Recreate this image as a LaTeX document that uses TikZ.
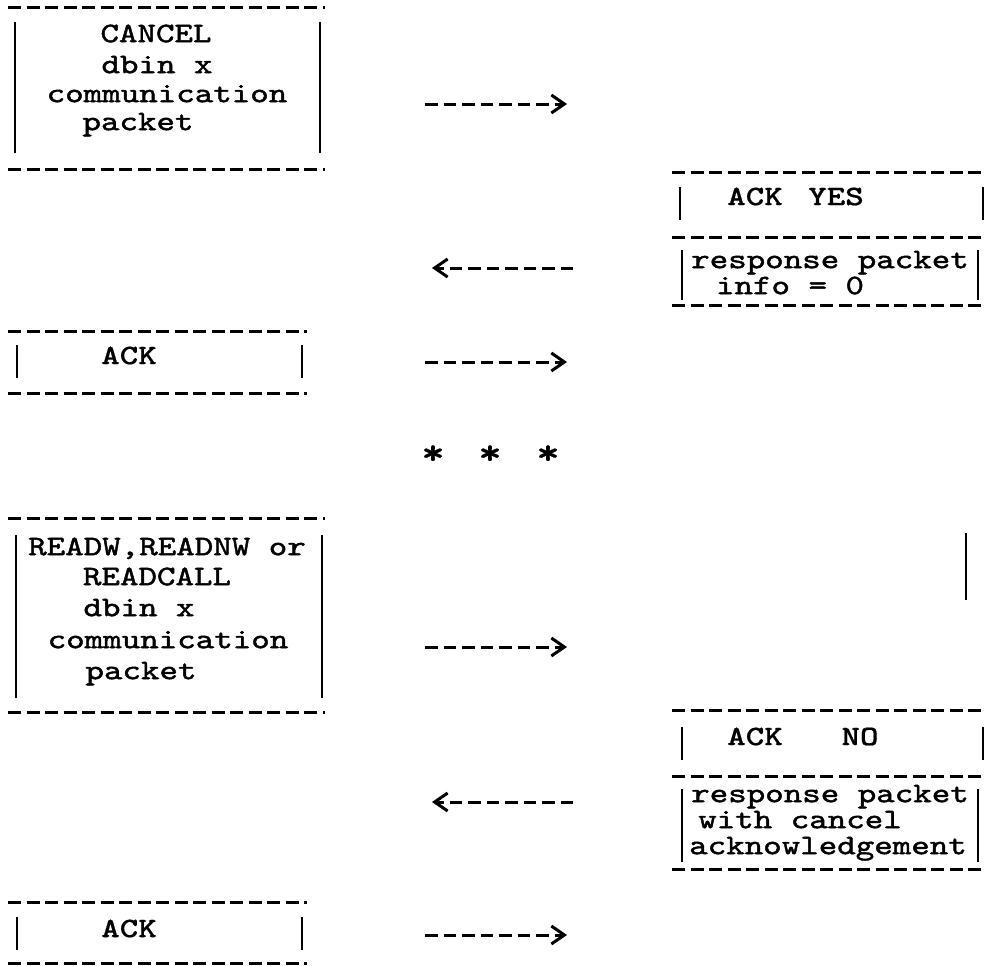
\documentclass[tikz,border=0pt]{standalone}
\usepackage{fontspec}
\usepackage{tikz}
\usetikzlibrary{arrows.meta}
\newfontfamily\typewheel{lmmono10-regular.otf}[FakeStretch=1.25,FakeBold=1.6]
\newfontfamily\typeheavy{lmmonolt10-bold.otf}[FakeStretch=1.25,FakeBold=0.6]
\tikzset{
  rule/.style={line width=3pt,dash pattern=on 13pt off 5.5pt},
  bar/.style={line width=2.6pt},
  txt/.style={font=\typewheel\fontsize{28.2}{30}\selectfont,inner sep=0pt,anchor=mid},
  keytxt/.style={txt,font=\typeheavy\fontsize{28.2}{30}\selectfont},
  startxt/.style={txt,font=\typeheavy\fontsize{36}{30}\selectfont},
  sendarrow/.style={line width=3pt,dash pattern=on 12.5pt off 6pt,-{Straight Barb[length=13pt,width=18pt,sep=5pt]}}
}
\begin{document}
\begin{tikzpicture}[x=1pt,y=-1pt]
  \useasboundingbox (0,0) rectangle (985,966);

  % cancel request
  \draw[rule] (8,8) -- (325,8);
  \draw[bar] (15,22) -- (15,153);
  \draw[bar] (320,22) -- (320,153);
  \draw[rule] (8,169) -- (325,169);
  \node[txt] (cancel) at (156,40) {CANCEL};
  \node[txt] (dbinA) at (157,71) {dbin x};
  \node[txt] (commA) at (167,100) {communication};
  \node[txt] (packA) at (138,128) {packet};

  \coordinate (sendA) at (425,104);
  \coordinate (recvA) at (572,104);
  \draw[sendarrow] (sendA) -- (recvA);

  % ack yes
  \draw[rule] (672,172) -- (985,172);
  \draw[bar] (680,187) -- (680,220);
  \draw[bar] (983,187) -- (983,220);
  \node[keytxt] (ackY) at (755,203) {ACK};
  \node[keytxt] (yes) at (836,203) {YES};
  \draw[rule] (672,237) -- (985,237);
  \draw[bar] (682,250) -- (682,300);
  \draw[bar] (978,250) -- (978,300);
  \node[txt] (respY) at (830,266) {response packet};
  \node[txt] (info) at (790,292) {info = 0};
  \draw[rule] (672,305) -- (985,305);

  \coordinate (backB) at (573,268);
  \coordinate (endB) at (427,268);
  \draw[sendarrow] (backB) -- (endB);

  % ack
  \draw[rule] (8,331) -- (307,331);
  \draw[bar] (17,345) -- (17,378);
  \draw[bar] (302,345) -- (302,378);
  \draw[rule] (8,393) -- (307,393);
  \node[keytxt] (ackA) at (129,362) {ACK};

  \coordinate (sendC) at (425,362);
  \coordinate (recvC) at (572,362);
  \draw[sendarrow] (sendC) -- (recvC);

  \node[startxt] (starA) at (433,462) {*};
  \node[startxt] (starB) at (490,462) {*};
  \node[startxt] (starC) at (548,462) {*};

  \draw[bar] (966,533) -- (966,600);

  % read request
  \draw[rule] (8,518) -- (325,518);
  \draw[bar] (16,535) -- (16,698);
  \draw[bar] (322,535) -- (322,698);
  \draw[rule] (8,712) -- (325,712);
  \node[txt] (readw) at (167,553) {READW,READNW or};
  \node[txt] (readcall) at (157,583) {READCALL};
  \node[txt] (dbinB) at (139,614) {dbin x};
  \node[txt] (commB) at (168,646) {communication};
  \node[txt] (packB) at (141,677) {packet};

  \coordinate (sendD) at (425,647);
  \coordinate (recvD) at (572,647);
  \draw[sendarrow] (sendD) -- (recvD);

  % ack no
  \draw[rule] (672,710) -- (985,710);
  \draw[bar] (682,727) -- (682,760);
  \draw[bar] (983,727) -- (983,760);
  \node[keytxt] (ackN) at (755,743) {ACK};
  \node[keytxt] (no) at (860,743) {NO};
  \draw[rule] (672,776) -- (985,776);
  \draw[bar] (682,789) -- (682,862);
  \draw[bar] (978,789) -- (978,862);
  \node[txt] (respN) at (830,800) {response packet};
  \node[txt] (cancelack) at (800,826) {with cancel};
  \node[txt] (acknow) at (828,852) {acknowledgement};
  \draw[rule] (672,869) -- (985,869);

  \coordinate (backE) at (573,802);
  \coordinate (endE) at (427,802);
  \draw[sendarrow] (backE) -- (endE);

  % ack
  \draw[rule] (8,902) -- (307,902);
  \draw[bar] (17,917) -- (17,950);
  \draw[bar] (302,917) -- (302,950);
  \draw[rule] (8,963) -- (307,963);
  \node[keytxt] (ackB) at (129,935) {ACK};

  \coordinate (sendF) at (425,935);
  \coordinate (recvF) at (572,935);
  \draw[sendarrow] (sendF) -- (recvF);
\end{tikzpicture}
\end{document}
